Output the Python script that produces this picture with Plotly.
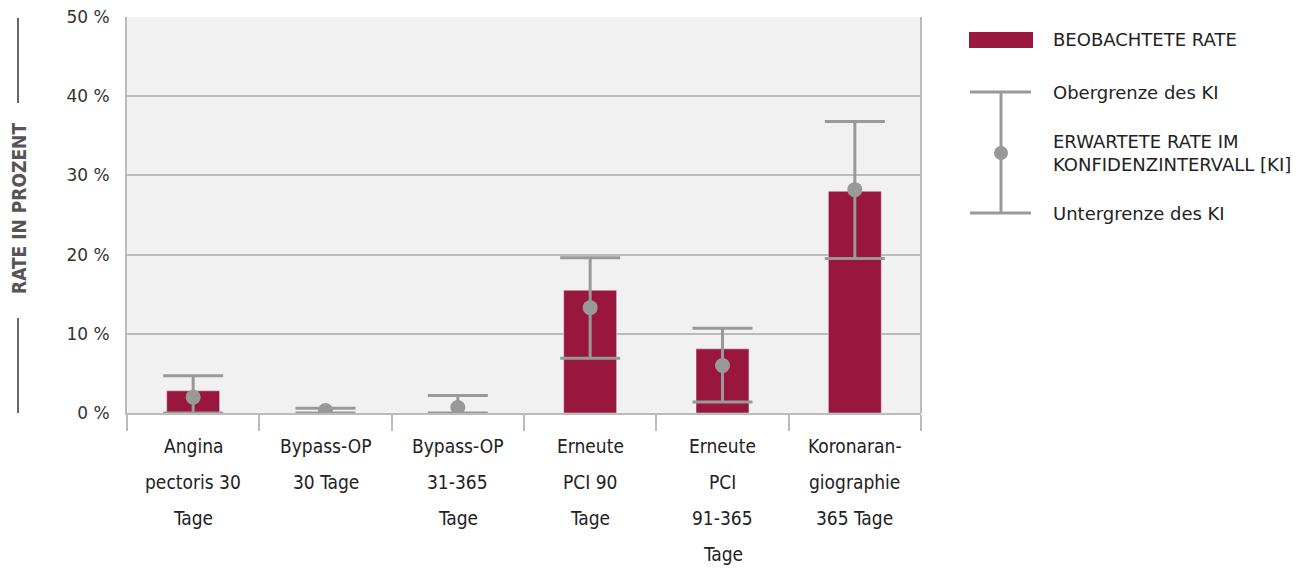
import plotly.graph_objects as go

categories = ["Angina pectoris 30 Tage", "Bypass-OP 30 Tage", "Bypass-OP 31-365 Tage",
              "Erneute PCI 90 Tage", "Erneute PCI 91-365 Tage", "Koronarangiographie 365 Tage"]
label_lines = [["Angina", "pectoris 30", "Tage"],
               ["Bypass-OP", "30 Tage"],
               ["Bypass-OP", "31-365", "Tage"],
               ["Erneute", "PCI 90", "Tage"],
               ["Erneute", "PCI", "91-365", "Tage"],
               ["Koronaran-", "giographie", "365 Tage"]]
observed = [2.8, 0.0, 0.0, 15.5, 8.1, 28.0]
expected = [2.0, 0.3, 0.7, 13.3, 6.0, 28.2]
ci_upper = [4.7, 0.6, 2.2, 19.6, 10.7, 36.8]
ci_lower = [0.0, 0.0, 0.0, 6.9, 1.4, 19.5]
y_ticks = [0, 10, 20, 30, 40, 50]
y_tick_text = ["0 %", "10 %", "20 %", "30 %", "40 %", "50 %"]

BAR = "#99173e"
GRAY = "#999999"

# page offset (body margin) and target plot area in page pixels
OFF = 8
L, R, T, B = 127, 921, 17, 413
W, H = 1313, 573
def px(x):
    return (x - L) / (R - L)
def py(y):
    return (B - y) / (B - T)

fig = go.Figure()
fig.add_trace(go.Bar(x=categories, y=observed, marker_color=BAR, width=0.4,
                     showlegend=False, hoverinfo="y"))
fig.add_trace(go.Scatter(
    x=categories, y=expected, mode="markers",
    marker=dict(color=GRAY, size=15),
    error_y=dict(type="data", symmetric=False,
                 array=[u - e for u, e in zip(ci_upper, expected)],
                 arrayminus=[e - l for e, l in zip(expected, ci_lower)],
                 color=GRAY, thickness=3, width=30),
    showlegend=False))

annotations = []
for cat, lines in zip(categories, label_lines):
    for i, t in enumerate(lines):
        annotations.append(dict(x=cat, xref="x", y=py(446 + 36 * i), yref="paper",
                                text=t, showarrow=False, yanchor="middle", xanchor="center",
                                font=dict(family="DejaVu Sans Condensed", size=19, color="#222")))

# y-axis title
annotations.append(dict(x=px(19), y=py(208), xref="paper", yref="paper", text="RATE IN PROZENT",
                        textangle=-90, showarrow=False,
                        font=dict(family="DejaVu Sans Condensed", size=19, color="#555", weight="bold"),
                        xanchor="center", yanchor="middle"))

shapes = [
    dict(type="line", xref="paper", yref="paper", x0=px(18), x1=px(18), y0=py(18), y1=py(103),
         line=dict(color="#666", width=2)),
    dict(type="line", xref="paper", yref="paper", x0=px(18), x1=px(18), y0=py(318), y1=py(413),
         line=dict(color="#666", width=2)),
    # legend
    dict(type="rect", xref="paper", yref="paper", x0=px(969), x1=px(1033), y0=py(32), y1=py(48),
         fillcolor=BAR, line=dict(width=0)),
    dict(type="line", xref="paper", yref="paper", x0=px(1001), x1=px(1001), y0=py(92), y1=py(213),
         line=dict(color=GRAY, width=3)),
    dict(type="line", xref="paper", yref="paper", x0=px(970), x1=px(1031), y0=py(92), y1=py(92),
         line=dict(color=GRAY, width=3)),
    dict(type="line", xref="paper", yref="paper", x0=px(970), x1=px(1031), y0=py(213), y1=py(213),
         line=dict(color=GRAY, width=3)),
    dict(type="circle", xref="paper", yref="paper", x0=px(994), x1=px(1008), y0=py(146), y1=py(160),
         fillcolor=GRAY, line=dict(width=0)),
    # right border of the plot area
    dict(type="line", xref="paper", yref="paper", x0=1, x1=1, y0=0, y1=1,
         line=dict(color="#bbbbbb", width=2)),
]
leg_font = dict(family="DejaVu Sans", size=18, color="#222")
for text, yy in [("BEOBACHTETE RATE", 40), ("Obergrenze des KI", 92),
                 ("ERWARTETE RATE IM<br>KONFIDENZINTERVALL [KI]", 153), ("Untergrenze des KI", 213)]:
    annotations.append(dict(x=px(1051), y=py(yy), xref="paper", yref="paper", text=text,
                            showarrow=False, xanchor="left", yanchor="middle", align="left",
                            font=leg_font))

fig.update_layout(
    width=W - 2 * OFF, height=H - 2 * OFF,
    margin=dict(l=L - OFF, r=W - R - OFF, t=T - OFF, b=H - B - OFF, autoexpand=False),
    paper_bgcolor="white", plot_bgcolor="#f1f1f1",
    annotations=annotations, shapes=shapes,
    showlegend=False,
)
fig.update_xaxes(showticklabels=False, tickson="boundaries", ticks="outside", ticklen=16,
                 tickcolor="#bbbbbb", tickwidth=2, showline=True, linecolor="#bbbbbb", linewidth=2,
                 showgrid=False, automargin=False)
fig.update_yaxes(range=[0, 50], tickvals=y_ticks, ticktext=y_tick_text, gridcolor="#bbbbbb",
                 gridwidth=1.5, zeroline=False, showline=True, linecolor="#bbbbbb", linewidth=2,
                 tickfont=dict(family="DejaVu Sans", size=17, color="#333"),
                 ticks="outside", ticklen=12, tickcolor="rgba(0,0,0,0)",
                 ticklabeloverflow="allow", automargin=False)

fig.write_html("out.html")
